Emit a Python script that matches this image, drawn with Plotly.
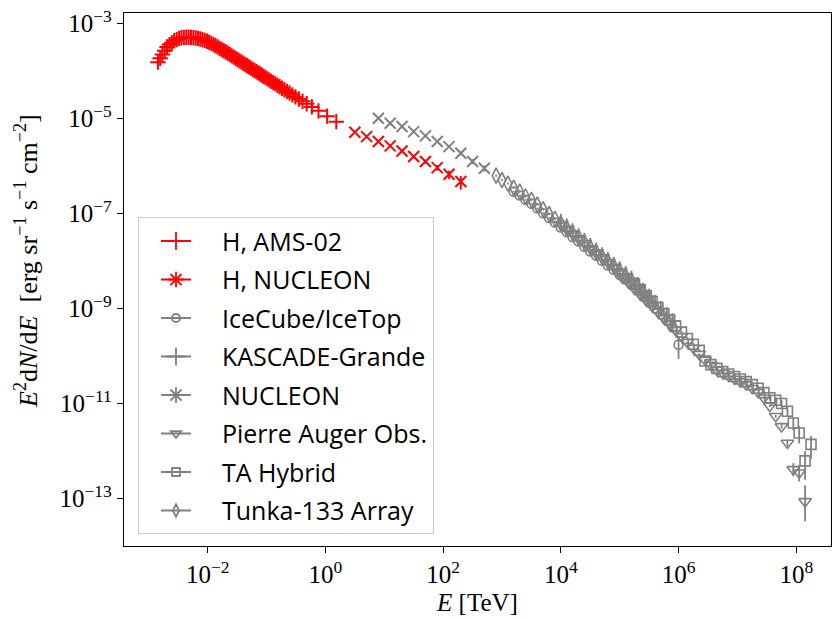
import plotly.graph_objects as go

RED = "#ff0000"
GREY = "#808080"

# ---------------- H, AMS-02 ----------------
ams_E = [1.428e-3, 1.557e-3, 1.699e-3, 1.861e-3, 2.040e-3, 2.238e-3, 2.458e-3, 2.700e-3,
         2.968e-3, 3.264e-3, 3.586e-3, 3.938e-3, 4.323e-3, 4.744e-3, 5.204e-3, 5.707e-3,
         6.249e-3, 6.838e-3, 7.477e-3, 8.166e-3, 8.911e-3, 9.716e-3, 1.058e-2, 1.153e-2,
         1.252e-2, 1.357e-2, 1.472e-2, 1.596e-2, 1.731e-2, 1.876e-2, 2.030e-2, 2.195e-2,
         2.375e-2, 2.570e-2, 2.775e-2, 2.994e-2, 3.228e-2, 3.478e-2, 3.747e-2, 4.037e-2,
         4.347e-2, 4.677e-2, 5.032e-2, 5.412e-2, 5.816e-2, 6.251e-2, 6.721e-2, 7.225e-2,
         7.765e-2, 8.345e-2, 8.969e-2, 9.644e-2, 0.1039, 0.1119, 0.1204, 0.1299, 0.1409,
         0.1534, 0.1673, 0.1833, 0.2013, 0.2217, 0.2457, 0.2745, 0.3099, 0.3537, 0.4088,
         0.4813, 0.5886, 0.7621, 1.0696, 1.5297]
ams_F = [1.55e-4, 1.86e-4, 2.24e-4, 2.69e-4, 3.24e-4, 3.63e-4, 3.98e-4, 4.37e-4,
         4.62e-4, 4.90e-4, 5.07e-4, 5.15e-4, 5.19e-4, 5.19e-4, 5.15e-4, 5.09e-4,
         5.01e-4, 4.90e-4, 4.75e-4, 4.60e-4, 4.45e-4, 4.27e-4, 4.07e-4, 3.85e-4,
         3.63e-4, 3.43e-4, 3.24e-4, 3.02e-4, 2.85e-4, 2.69e-4, 2.54e-4, 2.40e-4,
         2.24e-4, 2.10e-4, 1.98e-4, 1.86e-4, 1.75e-4, 1.65e-4, 1.56e-4, 1.47e-4,
         1.38e-4, 1.30e-4, 1.23e-4, 1.16e-4, 1.09e-4, 1.03e-4, 9.75e-5, 9.20e-5,
         8.69e-5, 8.20e-5, 7.75e-5, 7.31e-5, 6.87e-5, 6.49e-5, 6.11e-5, 5.75e-5, 5.40e-5,
         5.04e-5, 4.71e-5, 4.38e-5, 4.06e-5, 3.75e-5, 3.46e-5, 3.17e-5, 2.87e-5, 2.59e-5,
         2.33e-5, 2.06e-5, 1.77e-5, 1.46e-5, 1.13e-5, 8.65e-6]

# ---------------- H, NUCLEON ----------------
hnuc_E = [3.16, 5.01, 7.94, 12.6, 20.0, 31.6, 50.1, 79.4, 126.0, 200.0]
hnuc_F = [5.16e-6, 4.19e-6, 3.29e-6, 2.67e-6, 2.09e-6, 1.59e-6, 1.25e-6, 9.31e-7, 6.73e-7, 4.73e-7]
hnuc_rel = [0.03, 0.03, 0.04, 0.05, 0.06, 0.08, 0.10, 0.14, 0.20, 0.32]

# ---------------- NUCLEON (all particle) ----------------
nuc_E = [7.94, 12.6, 20.0, 31.6, 50.1, 79.4, 126.0, 200.0, 316.0, 501.0]
nuc_F = [1.02e-5, 7.98e-6, 6.81e-6, 5.33e-6, 4.34e-6, 3.29e-6, 2.58e-6, 1.87e-6, 1.25e-6, 9.0e-7]
nuc_rel = [0.03, 0.03, 0.03, 0.04, 0.05, 0.06, 0.07, 0.09, 0.12, 0.15]

# ---------------- Tunka-133 Array ----------------
tunka_E = [7.94e2, 1.0e3, 1.26e3, 1.58e3, 2.0e3, 2.51e3, 3.16e3, 3.98e3, 5.01e3, 6.31e3,
           7.94e3, 1.0e4, 1.26e4, 1.58e4, 2.0e4, 2.51e4, 3.16e4, 3.98e4, 5.01e4, 6.31e4,
           7.94e4, 1.0e5, 1.26e5, 1.58e5, 2.0e5, 2.51e5, 3.16e5]
tunka_F = [6.3e-7, 5.1e-7, 4.3e-7, 3.5e-7, 2.9e-7, 2.3e-7, 1.95e-7, 1.55e-7, 1.23e-7, 9.8e-8,
           7.8e-8, 6.2e-8, 4.9e-8, 3.9e-8, 3.1e-8, 2.45e-8, 1.95e-8, 1.55e-8, 1.23e-8, 9.8e-9,
           7.8e-9, 6.2e-9, 4.9e-9, 3.9e-9, 2.95e-9, 2.2e-9, 1.66e-9]
tunka_rel = [0.05] * 20 + [0.06, 0.07, 0.08, 0.10, 0.12, 0.15, 0.2]

# ---------------- KASCADE-Grande ----------------
kg_E = [1.0e4, 1.26e4, 1.58e4, 2.0e4, 2.51e4, 3.16e4, 3.98e4, 5.01e4, 6.31e4, 7.94e4,
        1.0e5, 1.26e5, 1.58e5, 2.0e5, 2.51e5, 3.16e5, 3.98e5, 5.01e5, 6.31e5, 7.94e5]
kg_F = [6.8e-8, 5.4e-8, 4.3e-8, 3.4e-8, 2.7e-8, 2.1e-8, 1.7e-8, 1.35e-8, 1.07e-8, 8.5e-9,
        6.8e-9, 5.4e-9, 4.3e-9, 3.2e-9, 2.4e-9, 1.8e-9, 1.35e-9, 1.0e-9, 7.4e-10, 5.5e-10]
kg_rel = [0.06] * 14 + [0.08, 0.10, 0.12, 0.15, 0.2, 0.25]

# ---------------- IceCube/IceTop ----------------
ice_E = [1.58e3, 2.0e3, 2.51e3, 3.16e3, 3.98e3, 5.01e3, 6.31e3, 7.94e3, 1.0e4, 1.26e4,
         1.58e4, 2.0e4, 2.51e4, 3.16e4, 3.98e4, 5.01e4, 6.31e4, 7.94e4, 1.0e5, 1.26e5,
         1.58e5, 2.0e5, 2.51e5, 3.16e5, 3.98e5, 5.01e5, 6.31e5, 7.94e5, 1.0e6]
ice_F = [2.9e-7, 2.4e-7, 1.95e-7, 1.62e-7, 1.29e-7, 1.02e-7, 8.1e-8, 6.5e-8, 5.1e-8, 4.1e-8,
         3.2e-8, 2.6e-8, 2.0e-8, 1.6e-8, 1.29e-8, 1.02e-8, 8.1e-9, 6.5e-9, 5.1e-9, 4.1e-9,
         3.2e-9, 2.45e-9, 1.8e-9, 1.38e-9, 1.02e-9, 7.6e-10, 5.6e-10, 4.0e-10, 1.74e-10]
ice_rel = [0.04] * 22 + [0.05, 0.06, 0.08, 0.1, 0.15, 0.2, 0.5]

# ---------------- Pierre Auger Obs. ----------------
auger_E = [1.12e5, 1.41e5, 1.78e5, 2.24e5, 2.82e5, 3.55e5, 4.47e5, 5.62e5, 7.08e5, 8.91e5,
           1.12e6, 1.41e6, 1.78e6, 2.24e6, 2.82e6, 3.55e6, 4.47e6, 5.62e6, 7.08e6, 8.91e6,
           1.12e7, 1.41e7, 1.78e7, 2.24e7, 2.82e7, 3.55e7, 4.47e7, 5.62e7, 7.08e7, 8.91e7,
           1.12e8, 1.41e8]
auger_F = [4.4e-9, 3.5e-9, 2.6e-9, 1.95e-9, 1.48e-9, 1.12e-9, 8.5e-10, 6.3e-10, 4.7e-10, 3.5e-10,
           2.6e-10, 1.95e-10, 1.48e-10, 1.10e-10, 8.3e-11, 6.5e-11, 5.1e-11, 4.4e-11, 3.8e-11, 3.3e-11,
           2.9e-11, 2.5e-11, 2.1e-11, 1.74e-11, 1.32e-11, 8.9e-12, 5.4e-12, 3.3e-12, 1.48e-12, 4.1e-13,
           3.5e-13, 8.7e-14]
auger_up = [0.03] * 24 + [0.04, 0.05, 0.07, 0.10, 0.18, 0.35, 0.45, 1.2]
auger_dn = [0.03] * 24 + [0.04, 0.05, 0.07, 0.10, 0.16, 0.28, 0.35, 0.62]

# ---------------- TA Hybrid ----------------
ta_E = [1.78e5, 2.24e5, 2.82e5, 3.55e5, 4.47e5, 5.62e5, 7.08e5, 8.91e5, 1.12e6, 1.41e6,
        1.78e6, 2.24e6, 2.82e6, 3.55e6, 4.47e6, 5.62e6, 7.08e6, 8.91e6, 1.12e7, 1.41e7,
        1.78e7, 2.24e7, 2.82e7, 3.55e7, 4.47e7, 5.62e7, 7.08e7, 8.91e7, 1.12e8, 1.41e8,
        1.78e8]
ta_F = [3.3e-9, 2.5e-9, 1.86e-9, 1.40e-9, 1.04e-9, 7.8e-10, 5.75e-10, 4.3e-10, 3.2e-10, 2.35e-10,
        1.78e-10, 1.32e-10, 7.9e-11, 6.6e-11, 5.5e-11, 4.7e-11, 4.2e-11, 3.7e-11, 3.3e-11, 2.9e-11,
        2.5e-11, 2.1e-11, 1.70e-11, 1.32e-11, 1.17e-11, 1.0e-11, 6.9e-12, 3.9e-12, 2.4e-12, 6.2e-13,
        1.38e-12]
ta_rel = [0.06] * 20 + [0.07, 0.08, 0.1, 0.12, 0.15, 0.18, 0.22, 0.3, 0.4, 0.6, 0.5]

legend_names = ["H, AMS-02", "H, NUCLEON", "IceCube/IceTop", "KASCADE-Grande",
                "NUCLEON", "Pierre Auger Obs.", "TA Hybrid", "Tunka-133 Array"]

fig = go.Figure()

def add(E, F, color, symbol, size, lw=1.8, up=None, dn=None):
    ey = None
    if up is not None:
        ey = dict(type="data", array=[f * r for f, r in zip(F, up)],
                  arrayminus=[f * r for f, r in zip(F, dn if dn is not None else up)],
                  color=color, thickness=1.8, width=0, visible=True)
    fig.add_trace(go.Scatter(
        x=E, y=F, mode="markers", showlegend=False,
        marker=dict(symbol=symbol, size=size, color=color,
                    line=dict(color=color, width=lw)),
        error_y=ey, hoverinfo="skip"))

add(ams_E, ams_F, RED, "cross-thin", 11, 2)
add(hnuc_E, hnuc_F, RED, "x-thin", 11, 2, hnuc_rel)
add(tunka_E, tunka_F, GREY, "diamond-tall-open", 11, 1.6, tunka_rel)
add(kg_E, kg_F, GREY, "cross-thin", 11, 1.8, kg_rel)
add(ice_E, ice_F, GREY, "circle-open", 9, 1.6, ice_rel)
add(nuc_E, nuc_F, GREY, "x-thin", 11, 2, nuc_rel)
add(auger_E, auger_F, GREY, "triangle-down-open", 11, 1.6, auger_up, auger_dn)
add(ta_E, ta_F, GREY, "square-open", 10, 1.6, ta_rel)

legend_style = [(RED, "cross-thin", 13), (RED, "asterisk-open", 13), (GREY, "circle-open", 8),
                (GREY, "cross-thin", 13), (GREY, "asterisk-open", 13), (GREY, "triangle-down-open", 9),
                (GREY, "square-open", 8), (GREY, "diamond-tall-open", 9)]
pad = "\u00a0" * 4
for i, (nm, (col, sym, sz)) in enumerate(zip(legend_names, legend_style)):
    fig.add_trace(go.Scatter(
        x=[None], y=[None], mode="lines+markers", name=pad + nm, legendgroup=f"g{i}",
        line=dict(color=col, width=2),
        marker=dict(symbol=sym, size=sz, color=col, line=dict(color=col, width=1.8))))

serif = "Liberation Serif, DejaVu Serif, serif"
xt = [1e-2, 1e0, 1e2, 1e4, 1e6, 1e8]
xtt = ["10<sup>−2</sup>", "10<sup>0</sup>", "10<sup>2</sup>", "10<sup>4</sup>", "10<sup>6</sup>", "10<sup>8</sup>"]
yt = [1e-3, 1e-5, 1e-7, 1e-9, 1e-11, 1e-13]
ytt = ["10<sup>−3</sup>", "10<sup>−5</sup>", "10<sup>−7</sup>", "10<sup>−9</sup>", "10<sup>−11</sup>", "10<sup>−13</sup>"]
ytitle = "<i>E</i><sup>2</sup>d<i>N</i>/d<i>E</i>  [erg sr<sup>−1</sup> s<sup>−1</sup> cm<sup>−2</sup>]"

fig.update_layout(
    width=833, height=620,
    margin=dict(l=124, r=2, t=13, b=74),
    paper_bgcolor="white", plot_bgcolor="white",
    showlegend=True,
    legend=dict(x=0.0198, y=0.022, xanchor="left", yanchor="bottom",
                bgcolor="rgba(255,255,255,0.8)", bordercolor="#cccccc", borderwidth=1,
                font=dict(family="Open Sans, sans-serif", size=25, color="black"),
                tracegroupgap=3, itemwidth=30, indentation=17),
    xaxis=dict(type="log", range=[-3.422, 8.59], tickvals=xt, ticktext=xtt, automargin=False,
               showgrid=False, zeroline=False, showline=True, linecolor="black", linewidth=1.4,
               mirror=True, ticks="outside", ticklen=6, tickwidth=1.4, tickcolor="black",
               tickfont=dict(family=serif, size=25, color="black"),
               title=dict(text="<i>E</i> [TeV]", font=dict(family=serif, size=25, color="black"), standoff=6)),
    yaxis=dict(type="log", range=[-14.0, -2.775], tickvals=yt, ticktext=ytt, automargin=False,
               showgrid=False, zeroline=False, showline=True, linecolor="black", linewidth=1.4,
               mirror=True, ticks="outside", ticklen=6, tickwidth=1.4, tickcolor="black",
               tickfont=dict(family=serif, size=25, color="black")),
    annotations=[dict(text=ytitle, xref="paper", yref="paper", x=-0.137, y=0.535,
                      xanchor="center", yanchor="middle", textangle=-90, showarrow=False,
                      font=dict(family=serif, size=26, color="black"))],
)

fig.write_html("out.html", config={"displayModeBar": False},
               post_script="document.body.style.margin='0px';")
